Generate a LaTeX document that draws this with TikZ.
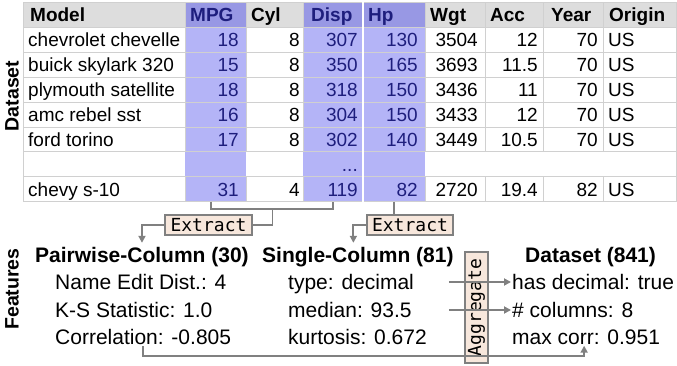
\documentclass[tikz,border=0pt]{standalone}
\usepackage{fontspec}
\setmainfont{Liberation Sans}
\newfontfamily\codefont{DejaVu Sans Mono}
\usetikzlibrary{arrows.meta}
\definecolor{hlcell}{RGB}{180,180,247}
\definecolor{hlhead}{RGB}{152,152,228}
\definecolor{hltext}{RGB}{30,30,125}
\definecolor{headgray}{RGB}{221,221,221}
\definecolor{gridgray}{RGB}{208,208,208}
\definecolor{peach}{RGB}{247,231,220}
\definecolor{linkgray}{RGB}{128,128,128}

\begin{document}
\begin{tikzpicture}[x=1pt,y=1pt,
  cell/.style={inner sep=0pt,font=\fontsize{19}{21}\selectfont},
  numcell/.style={cell,anchor=base east},
  txtcell/.style={cell,anchor=base west},
  headcell/.style={cell,anchor=base west,font=\fontsize{19}{21}\selectfont\bfseries},
  hl/.style={text=hltext},
  gridline/.style={gridgray,line width=0.9pt},
  sidelabel/.style={inner sep=0pt,rotate=90,font=\fontsize{19.5}{22}\selectfont\bfseries},
  feathead/.style={inner sep=0pt,anchor=west,text height=15pt,text depth=0pt,font=\fontsize{21}{24}\selectfont\bfseries},
  featitem/.style={inner sep=0pt,anchor=west,text height=15pt,text depth=0pt,font=\fontsize{21}{24}\selectfont},
  opbox/.style={draw=linkgray,line width=1.5pt,fill=peach,inner sep=1pt,font=\fontsize{18}{20}\codefont},
  link/.style={linkgray,line width=1.8pt},
  linkarrow/.style={link,-{Triangle[length=7pt,width=7pt]}}]
\path[use as bounding box] (0,0) rectangle (677,-366);

\fill[headgray] (23,-2.5) rectangle (676,-27.4);
\foreach \xa/\xb in {185/246,303/363,363/425}{
  \fill[hlcell] (\xa,-27.4) rectangle (\xb,-201.7);
  \fill[hlhead] (\xa,-2.5) rectangle (\xb,-27.4);
}
\foreach \yy in {27.4,52.3,77.2,102.1,127,151.9,176.8}
  \draw[gridline] (23,-\yy) -- (676,-\yy);
\foreach \xx in {185,246,303,425,485,543,603}{
  \draw[gridline] (\xx,-2.5) -- (\xx,-151.9);
  \draw[gridline] (\xx,-176.8) -- (\xx,-201.7);
}
\draw[gridline] (23,-2.5) rectangle (676,-201.7);
\draw[white,line width=1.5pt] (363,-2.5) -- (363,-201.7);

\node[headcell] (headmodel) at (30,-21.75) {Model};
\node[headcell,hl] (headmpg) at (190,-21.75) {MPG};
\node[headcell] (headcyl) at (251,-21.75) {Cyl};
\node[headcell,hl] (headdisp) at (311,-21.75) {Disp};
\node[headcell,hl] (headhp) at (368,-21.75) {Hp};
\node[headcell] (headwgt) at (430,-21.75) {Wgt};
\node[headcell] (headacc) at (490,-21.75) {Acc};
\node[headcell] (headyear) at (551,-21.75) {Year};
\node[headcell] (headorigin) at (609,-21.75) {Origin};

\foreach \r/\model/\mpg/\cyl/\disp/\hp/\wgt/\acc/\yr in {
  1/chevrolet chevelle/18/8/307/130/3504/12/70,
  2/buick skylark 320/15/8/350/165/3693/11.5/70,
  3/plymouth satellite/18/8/318/150/3436/11/70,
  4/amc rebel sst/16/8/304/150/3433/12/70,
  5/ford torino/17/8/302/140/3449/10.5/70,
  7/chevy s-10/31/4/119/82/2720/19.4/82}{
  \pgfmathsetmacro\yb{-21.75-24.9*\r}
  \node[txtcell] (model\r) at (28,\yb) {\model};
  \node[numcell,hl] (mpg\r) at (239,\yb) {\mpg};
  \node[numcell] (cyl\r) at (300,\yb) {\cyl};
  \node[numcell,hl] (disp\r) at (358,\yb) {\disp};
  \node[numcell,hl] (hp\r) at (418,\yb) {\hp};
  \node[numcell] (wgt\r) at (478,\yb) {\wgt};
  \node[numcell] (acc\r) at (538,\yb) {\acc};
  \node[numcell] (year\r) at (598,\yb) {\yr};
  \node[txtcell] (origin\r) at (608,\yb) {US};
}
\node[numcell,hl] (disp6) at (358,-171.15) {...};

\node[sidelabel] (dataside) at (12,-96) {Dataset};
\node[sidelabel] (featside) at (12,-289) {Features};

\node[feathead] (pairhead) at (35,-255) {Pairwise-Column (30)};
\node[feathead] (singlehead) at (262,-255) {Single-Column (81)};
\node[feathead] (datahead) at (525,-255) {Dataset (841)};
\node[featitem] (pair1) at (55,-282) {Name Edit Dist.: 4};
\node[featitem] (pair2) at (55,-310) {K-S Statistic: 1.0};
\node[featitem] (pair3) at (55,-337) {Correlation: -0.805};
\node[featitem] (single1) at (288,-282) {type: decimal};
\node[featitem] (single2) at (288,-310) {median: 93.5};
\node[featitem] (single3) at (288,-337) {kurtosis: 0.672};
\node[featitem] (data1) at (512,-282) {has decimal: true};
\node[featitem] (data2) at (512,-310) {\# columns: 8};
\node[featitem] (data3) at (512,-337) {max corr: 0.951};

\node[opbox,minimum width=87pt,minimum height=20pt] (extpair) at (208.5,-225) {Extract};
\node[opbox,minimum width=86pt,minimum height=20pt] (extsingle) at (410,-225) {Extract};
\node[opbox,rotate=90,minimum width=111pt,minimum height=23pt] (aggbox) at (476.5,-307.5) {Aggregate};

\coordinate (mpgfoot) at (211,-201.7);
\coordinate (dispfoot) at (333,-201.7);
\coordinate (hpfoot) at (394,-201.7);
\coordinate (pairmid) at (272.5,-209);

\draw[link] (mpgfoot) |- (pairmid) -| (dispfoot);
\draw[link] (pairmid) |- (extpair.east);
\draw[linkarrow,shorten >=4.5pt] (extpair.west) -| (pairhead.north);
\draw[link] (hpfoot) -- (hpfoot |- extsingle.north);
\draw[linkarrow,shorten >=4.5pt] (extsingle.west) -| ([xshift=-4.5pt]singlehead.north);

\draw[link] ([xshift=-40pt]aggbox.south |- single1.west) -- (aggbox.south |- single1.west);
\draw[link] ([xshift=-40pt]aggbox.south |- single2.west) -- (aggbox.south |- single2.west);
\draw[linkarrow] (aggbox.north |- data1.west) -- ([xshift=-1pt]data1.west);
\draw[linkarrow] (aggbox.north |- data2.west) -- ([xshift=-1pt]data2.west);
\draw[link] ([yshift=-1.5pt]pair3.south) -- ++(0,-9.5) coordinate (corrfoot) -- (corrfoot -| aggbox.south);
\draw[linkarrow] (corrfoot -| aggbox.north) -| ([xshift=-2pt,yshift=-1pt]data3.south);
\end{tikzpicture}
\end{document}
